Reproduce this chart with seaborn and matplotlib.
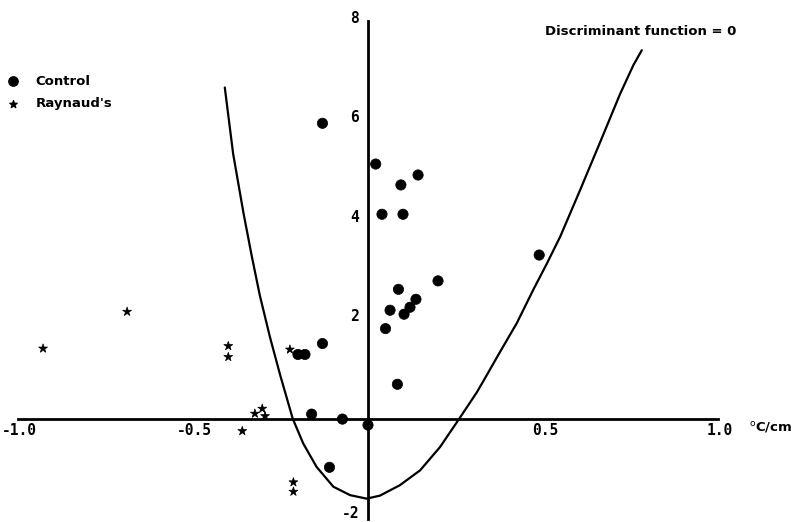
import numpy as np
import pandas as pd
import matplotlib
matplotlib.use("Agg")
import matplotlib.pyplot as plt
import seaborn as sns

# Values
control_x = [-0.13, 0.022, 0.04, 0.094, 0.10, 0.143, 0.489, 0.20, 0.087, 0.063, 0.05,
             0.103, 0.12, 0.137, 0.084, -0.13, -0.20, -0.18, -0.161, -0.073, 0.0, -0.11]
control_y = [5.95, 5.13, 4.12, 4.71, 4.12, 4.91, 3.30, 2.78, 2.61, 2.19, 1.82,
             2.11, 2.25, 2.41, 0.70, 1.52, 1.30, 1.30, 0.10, 0.0, -0.12, -0.97]

raynaud_x = [-0.928, -0.688, -0.399, -0.399, -0.359, -0.323, -0.302, -0.294, -0.223, -0.213, -0.213]
raynaud_y = [1.42, 2.16, 1.47, 1.25, -0.24, 0.11, 0.21, 0.06, 1.40, -1.27, -1.46]

# Discriminant function = 0 boundary
curve_x = [-0.409, -0.385, -0.356, -0.332, -0.309, -0.28, -0.251, -0.215, -0.185, -0.147,
           -0.099, -0.051, -0.004, 0.034, 0.091, 0.149, 0.206, 0.258, 0.311, 0.334,
           0.377, 0.425, 0.472, 0.511, 0.549, 0.606, 0.663, 0.72, 0.758, 0.782]
curve_y = [6.67, 5.33, 4.16, 3.28, 2.49, 1.65, 0.89, 0.01, -0.49, -0.96,
           -1.36, -1.53, -1.60, -1.54, -1.33, -1.03, -0.56, -0.02, 0.54, 0.82,
           1.35, 1.93, 2.60, 3.13, 3.67, 4.61, 5.57, 6.54, 7.12, 7.42]

x_ticklabels = ["-1.0", "-0.5", "0.5", "1.0"]
y_ticklabels = ["8", "6", "4", "2", "-2"]

df = pd.DataFrame({
    "x": control_x + raynaud_x,
    "y": control_y + raynaud_y,
    "group": ["Control"] * len(control_x) + ["Raynaud's"] * len(raynaud_x),
})
curve = pd.DataFrame({"x": curve_x, "y": curve_y})

sns.set_style("white")
plt.rcParams["font.family"] = ["DejaVu Sans"]
plt.rcParams["text.color"] = "black"

fig = plt.figure(figsize=(7.92, 5.22), dpi=100)
ax = fig.add_axes([0, 0, 1, 1])

sns.lineplot(data=curve, x="x", y="y", sort=False, color="black", lw=1.6, ax=ax)
sns.scatterplot(data=df, x="x", y="y", hue="group", style="group",
                markers={"Control": "o", "Raynaud's": "*"},
                palette={"Control": "black", "Raynaud's": "black"},
                size="group", sizes={"Control": 55, "Raynaud's": 45},
                edgecolor="black", linewidth=0.5, ax=ax, legend=False)

ax.set_xlim(-1.051, 1.211)
ax.set_ylim(-2.07, 8.43)

# axes crossing at origin
for s in ["top", "right"]:
    ax.spines[s].set_visible(False)
ax.spines["left"].set_position(("data", 0))
ax.spines["bottom"].set_position(("data", 0))
ax.spines["left"].set_bounds(-2, 8)
ax.spines["bottom"].set_bounds(-1, 1)
for s in ["left", "bottom"]:
    ax.spines[s].set_linewidth(2)
    ax.spines[s].set_color("black")

ax.set_xticks(np.round(np.arange(-1.0, 1.01, 0.1), 2))
ax.set_yticks(np.arange(-2, 9, 1))
ax.set_xticklabels([])
ax.set_yticklabels([])
ax.tick_params(axis="both", direction="inout", length=5, width=1.5, color="black")
ax.set_xlabel("")
ax.set_ylabel("")

lab_font = dict(fontsize=10.5, fontweight="bold", family="DejaVu Sans Mono", color="black")
for lab in x_ticklabels:
    ax.text(float(lab) + 0.005, -0.22, lab, ha="center", va="center", **lab_font)
for lab in y_ticklabels:
    ax.text(-0.026, max(float(lab) + 0.06, -1.9), lab, ha="right", va="center", **lab_font)

ax.text(1.089, -0.17, r"$^{\mathrm{o}}$C/cm", ha="left", va="center",
        fontsize=9.5, fontweight="bold", color="black")
ax.text(0.505, 7.79, "Discriminant function = 0", ha="left", va="center",
        fontsize=9.5, fontweight="bold", color="black")

# legend
ax.scatter([-1.014], [6.80], marker="o", s=45, color="black")
ax.scatter([-1.014], [6.34], marker="*", s=30, color="black")
ax.text(-0.949, 6.80, "Control", ha="left", va="center", fontsize=9.5, fontweight="bold", color="black")
ax.text(-0.949, 6.34, "Raynaud's", ha="left", va="center", fontsize=9.5, fontweight="bold", color="black")

fig.savefig("out.png", dpi=100, facecolor="white")
